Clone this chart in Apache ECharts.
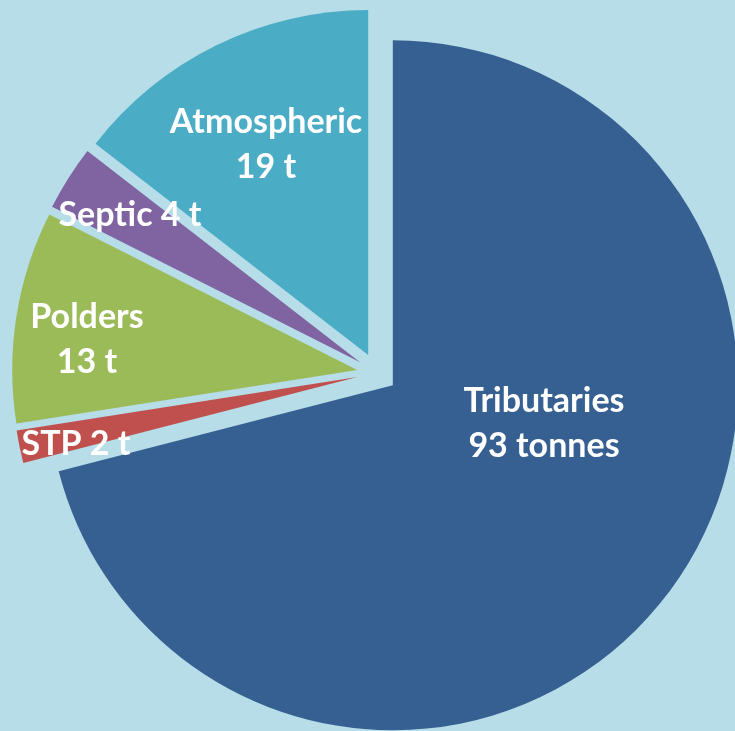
<!DOCTYPE html>
<html>
<head>
<meta charset="utf-8">
<script src="https://cdn.jsdelivr.net/npm/echarts@6/dist/echarts.min.js"></script>
<style>
  html, body { margin: 0; padding: 0; background: #b7dde8; }
  #main { width: 735px; height: 731px; }
</style>
</head>
<body>
<div id="main"></div>
<script>
// loads, in tonnes
var names = ['Tributaries', 'STP', 'Polders', 'Septic', 'Atmospheric'];
var values = [93, 2, 13, 4, 19];
var labelTexts = ['Tributaries\n93 tonnes', 'STP 2 t', 'Polders\n13 t', 'Septic 4 t', 'Atmospheric\n19 t'];
var colors = ['#376092', '#c0504d', '#9bbb59', '#8064a2', '#4bacc6'];

// where the labels sit (centre of text block)
var labelPos = [[544, 424], [76, 444], [87, 340], [130, 215], [266, 145]];

var myChart = echarts.init(document.getElementById('main'));

var option = {
    backgroundColor: '#b7dde8',
    animation: false,
    graphic: labelTexts.map(function (t, i) {
        return {
            type: 'text',
            x: labelPos[i][0],
            y: labelPos[i][1],
            z: 100,
            style: {
                text: t,
                fill: '#fff',
                font: 'bold 34px Lato',
                lineHeight: 45,
                align: 'center',
                verticalAlign: 'middle'
            }
        };
    }),
    series: [{
        type: 'pie',
        center: [377, 373],
        radius: 345,
        startAngle: 90,
        clockwise: true,
        selectedMode: 'multiple',
        selectedOffset: 20,
        emphasis: { disabled: true },
        label: { show: false },
        labelLine: { show: false },
        data: names.map(function (n, i) {
            return { name: n, value: values[i], selected: true, itemStyle: { color: colors[i] } };
        })
    }]
};

myChart.setOption(option);
</script>
</body>
</html>
